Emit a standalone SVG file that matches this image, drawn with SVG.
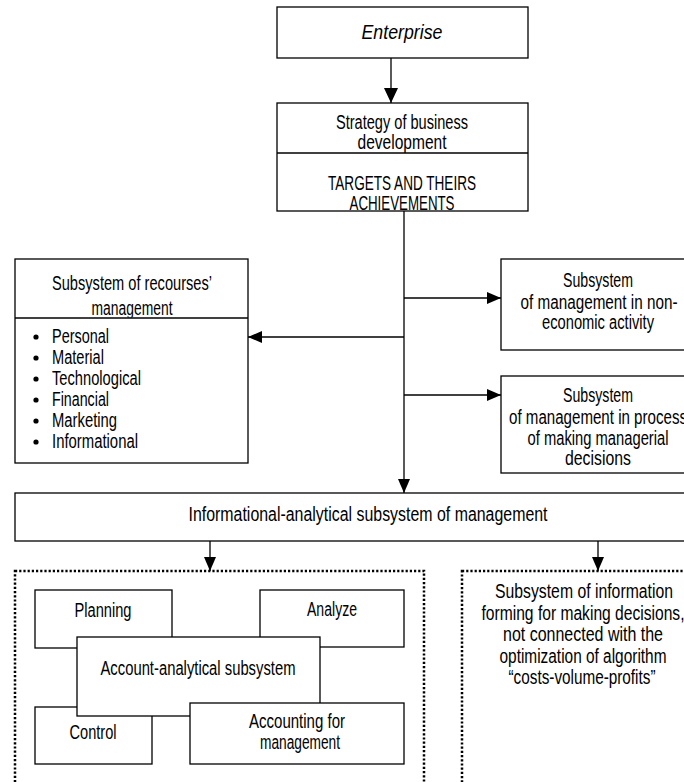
<svg xmlns="http://www.w3.org/2000/svg" width="684" height="782" viewBox="0 0 684 782">
<style>
text{font-family:"Liberation Sans",Arial,sans-serif;font-size:19.5px;fill:#000;text-anchor:middle}
.l{text-anchor:start}
.box{fill:#fff;stroke:#000;stroke-width:1.3}
.dot{fill:none;stroke:#000;stroke-width:2.5;stroke-dasharray:2.2 2}
.ln{stroke:#000;stroke-width:1.3;fill:none}
</style>
<defs>
<marker id="ah" markerWidth="14" markerHeight="12" refX="14" refY="6" orient="auto" markerUnits="userSpaceOnUse">
<path d="M0,0 L14,6 L0,12 Z" fill="#000"/>
</marker>
<marker id="ahb" markerWidth="15" markerHeight="14" refX="15" refY="7" orient="auto" markerUnits="userSpaceOnUse">
<path d="M0,0 L15,7 L0,14 Z" fill="#000"/>
</marker>
<clipPath id="cl"><rect x="15" y="259" width="233" height="58.5"/></clipPath>
</defs>
<rect width="684" height="782" fill="#fff"/>
<g id="connectors">
<line class="ln" x1="391" y1="58" x2="391" y2="103" stroke-width="2.5" marker-end="url(#ahb)"/>
<line class="ln" x1="404" y1="211" x2="404" y2="493" marker-end="url(#ah)"/>
<line class="ln" x1="404" y1="337" x2="248" y2="337" marker-end="url(#ah)"/>
<line class="ln" x1="404" y1="298" x2="501" y2="298" marker-end="url(#ah)"/>
<line class="ln" x1="404" y1="395" x2="501" y2="395" marker-end="url(#ah)"/>
<line class="ln" x1="210" y1="541" x2="210" y2="571" marker-end="url(#ah)"/>
<line class="ln" x1="598" y1="541" x2="598" y2="571" marker-end="url(#ah)"/>
</g>
<g id="enterprise">
<rect class="box" x="277" y="7" width="251" height="51"/>
<text x="402" y="39" font-style="italic" textLength="81" lengthAdjust="spacingAndGlyphs">Enterprise</text>
</g>
<g id="strategy">
<rect class="box" x="277" y="103" width="251" height="108"/>
<line class="ln" x1="277" y1="153" x2="528" y2="153"/>
<text x="402" y="129" textLength="132" lengthAdjust="spacingAndGlyphs">Strategy of business</text>
<text x="402" y="149" textLength="89" lengthAdjust="spacingAndGlyphs">development</text>
<text x="402" y="190" textLength="148" lengthAdjust="spacingAndGlyphs">TARGETS AND THEIRS</text>
<text x="402" y="210" textLength="105" lengthAdjust="spacingAndGlyphs">ACHIEVEMENTS</text>
</g>
<g id="resources">
<rect class="box" x="15" y="259" width="233" height="204"/>
<line class="ln" x1="15" y1="318" x2="248" y2="318"/>
<text x="132" y="290" textLength="160" lengthAdjust="spacingAndGlyphs">Subsystem of recourses’</text>
<text x="132" y="315" clip-path="url(#cl)" textLength="81" lengthAdjust="spacingAndGlyphs">management</text>
<g fill="#000">
<circle cx="36" cy="337" r="2.6"/><circle cx="36" cy="358" r="2.6"/><circle cx="36" cy="379" r="2.6"/>
<circle cx="36" cy="400" r="2.6"/><circle cx="36" cy="421" r="2.6"/><circle cx="36" cy="442" r="2.6"/>
</g>
<text class="l" x="52" y="343" textLength="57" lengthAdjust="spacingAndGlyphs">Personal</text>
<text class="l" x="52" y="364" textLength="52" lengthAdjust="spacingAndGlyphs">Material</text>
<text class="l" x="52" y="385" textLength="89" lengthAdjust="spacingAndGlyphs">Technological</text>
<text class="l" x="52" y="406" textLength="57" lengthAdjust="spacingAndGlyphs">Financial</text>
<text class="l" x="52" y="427" textLength="65" lengthAdjust="spacingAndGlyphs">Marketing</text>
<text class="l" x="52" y="448" textLength="86" lengthAdjust="spacingAndGlyphs">Informational</text>
</g>
<g id="noneconomic">
<rect class="box" x="501" y="259" width="200" height="91"/>
<text x="598" y="287" textLength="70" lengthAdjust="spacingAndGlyphs">Subsystem</text>
<text x="599" y="309" textLength="157" lengthAdjust="spacingAndGlyphs">of management in non-</text>
<text x="598" y="329" textLength="112" lengthAdjust="spacingAndGlyphs">economic activity</text>
</g>
<g id="decisions">
<rect class="box" x="501" y="376" width="200" height="97"/>
<text x="598" y="402" textLength="70" lengthAdjust="spacingAndGlyphs">Subsystem</text>
<text x="598" y="424" textLength="178" lengthAdjust="spacingAndGlyphs">of management in process</text>
<text x="598" y="445" textLength="141" lengthAdjust="spacingAndGlyphs">of making managerial</text>
<text x="598" y="465" textLength="66" lengthAdjust="spacingAndGlyphs">decisions</text>
</g>
<g id="informational">
<rect class="box" x="15" y="493" width="690" height="48"/>
<text x="368" y="521" textLength="359" lengthAdjust="spacingAndGlyphs">Informational-analytical subsystem of management</text>
</g>
<g id="account-group">
<rect class="dot" x="15" y="571" width="409" height="230"/>
<g id="planning"><rect class="box" x="35" y="590" width="137" height="58"/><text x="103" y="617" textLength="57" lengthAdjust="spacingAndGlyphs">Planning</text></g>
<g id="analyze"><rect class="box" x="260" y="590" width="144" height="57"/><text x="332" y="616" textLength="50" lengthAdjust="spacingAndGlyphs">Analyze</text></g>
<g id="control"><rect class="box" x="35" y="707" width="117" height="57"/><text x="93" y="739" textLength="47" lengthAdjust="spacingAndGlyphs">Control</text></g>
<g id="account-analytical"><rect class="box" x="77" y="637" width="243" height="79"/><text x="198" y="675" textLength="195" lengthAdjust="spacingAndGlyphs">Account-analytical subsystem</text></g>
<g id="accounting"><rect class="box" x="190" y="703" width="214" height="61"/><text x="297" y="728" textLength="96" lengthAdjust="spacingAndGlyphs">Accounting for</text><text x="300" y="749" textLength="80" lengthAdjust="spacingAndGlyphs">management</text></g>
</g>
<g id="information-forming">
<rect class="dot" x="462" y="571" width="260" height="230"/>
<text x="584" y="598" textLength="178" lengthAdjust="spacingAndGlyphs">Subsystem of information</text>
<text x="583" y="620" textLength="203" lengthAdjust="spacingAndGlyphs">forming for making decisions,</text>
<text x="583" y="641" textLength="160" lengthAdjust="spacingAndGlyphs">not connected with the</text>
<text x="583" y="663" textLength="167" lengthAdjust="spacingAndGlyphs">optimization of algorithm</text>
<text x="582" y="684" textLength="147" lengthAdjust="spacingAndGlyphs">“costs-volume-profits”</text>
</g>
</svg>
